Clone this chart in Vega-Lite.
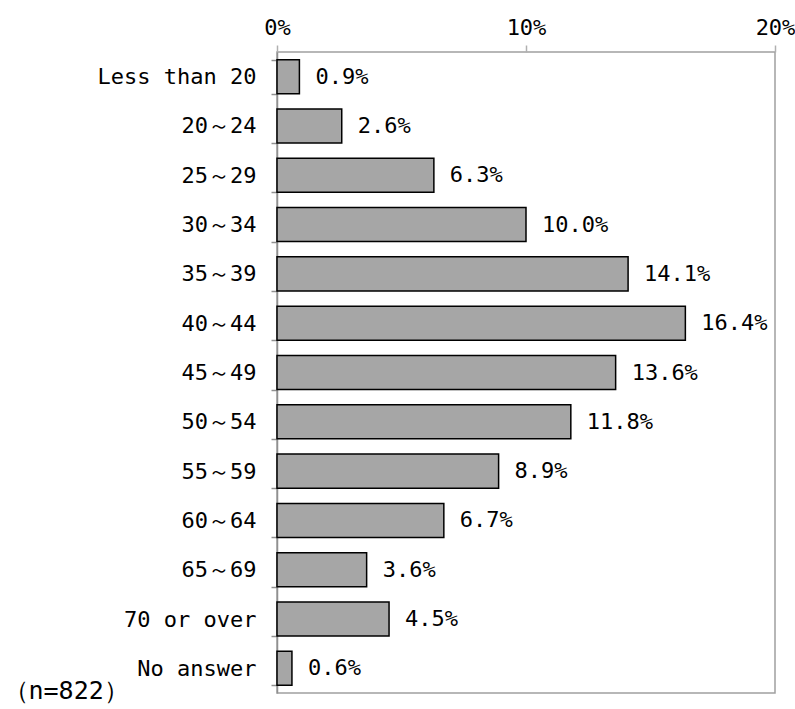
{
  "$schema": "https://vega.github.io/schema/vega-lite/v6.json",
  "width": 498,
  "height": 641,
  "autosize": {"type": "none"},
  "padding": {"left": 277, "top": 52, "right": 20, "bottom": 16},
  "background": "white",
  "config": {
    "view": {"stroke": "#a0a0a0", "strokeWidth": 1.5},
    "font": "DejaVu Sans Mono"
  },
  "data": {
    "values": [
      {"age": "Less than 20", "share": 0.009},
      {"age": "20～24", "share": 0.026},
      {"age": "25～29", "share": 0.063},
      {"age": "30～34", "share": 0.100},
      {"age": "35～39", "share": 0.141},
      {"age": "40～44", "share": 0.164},
      {"age": "45～49", "share": 0.136},
      {"age": "50～54", "share": 0.118},
      {"age": "55～59", "share": 0.089},
      {"age": "60～64", "share": 0.067},
      {"age": "65～69", "share": 0.036},
      {"age": "70 or over", "share": 0.045},
      {"age": "No answer", "share": 0.006}
    ]
  },
  "encoding": {
    "y": {
      "field": "age",
      "type": "nominal",
      "sort": null,
      "scale": {"paddingInner": 0.31, "paddingOuter": 0.155},
      "axis": {
        "orient": "left",
        "domainColor": "#909090",
        "domainWidth": 1.5,
        "tickColor": "#909090",
        "tickWidth": 1.5,
        "tickSize": 6,
        "tickBand": "extent",
        "labelPadding": 15,
        "labelFontSize": 22,
        "labelColor": "#000",
        "labelFont": "DejaVu Sans Mono",
        "title": "（n=822）",
        "titleAngle": 0,
        "titleAlign": "left",
        "titleBaseline": "middle",
        "titleX": -274,
        "titleY": 638,
        "titleFontSize": 25,
        "titleFontWeight": "normal",
        "titleColor": "#000",
        "titleFont": "DejaVu Sans Mono"
      }
    },
    "x": {
      "field": "share",
      "type": "quantitative",
      "scale": {"domain": [0, 0.2], "nice": false},
      "axis": {
        "orient": "top",
        "values": [0, 0.1, 0.2],
        "format": ".0%",
        "domain": false,
        "grid": false,
        "tickColor": "#b0b0b0",
        "tickWidth": 1.5,
        "tickSize": 7,
        "labelPadding": 6,
        "labelFontSize": 22,
        "labelColor": "#000",
        "labelFont": "DejaVu Sans Mono",
        "labelFlush": false,
        "title": null
      }
    }
  },
  "layer": [
    {"mark": {"type": "bar", "fill": "#a6a6a6", "stroke": "#000", "strokeWidth": 1.5}},
    {
      "mark": {"type": "text", "align": "left", "baseline": "middle", "dx": 16, "fontSize": 22, "color": "#000", "font": "DejaVu Sans Mono"},
      "encoding": {"text": {"field": "share", "type": "quantitative", "format": ".1%"}}
    }
  ]
}
